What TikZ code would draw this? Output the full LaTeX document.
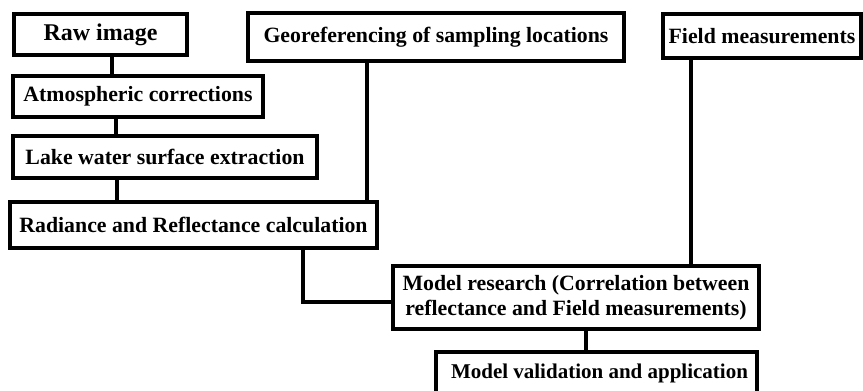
\documentclass[tikz,border=0pt]{standalone}
\usepackage{fontspec}
\setmainfont{Liberation Serif}
\begin{document}
\begin{tikzpicture}[x=1pt,y=-1pt,
  box/.style={draw,line width=3.4pt,inner sep=0pt,align=center,
    font=\bfseries\fontsize{21.8}{25}\selectfont},
  link/.style={line width=3.4pt}]
\useasboundingbox (0,0) rectangle (863,391);
\clip (0,0) rectangle (863,391);
\node[box,minimum width=173,minimum height=41,font=\bfseries\fontsize{24}{26}\selectfont] (raw) at (100.5,34.5) {Raw image};
\node[box,minimum width=250,minimum height=41] (atm) at (138,96.5) {Atmospheric corrections};
\node[box,minimum width=304,minimum height=42] (lake) at (165,157) {Lake water surface extraction};
\node[box,minimum width=367,minimum height=46] (rad) at (193.5,225) {Radiance and Reflectance calculation};
\node[box,minimum width=376,minimum height=48] (geo) at (436,37) {Georeferencing of sampling locations};
\node[box,minimum width=198,minimum height=44] (field) at (762,36) {Field measurements};
\node[box,minimum width=366,minimum height=63] (model) at (576,297.5) {Model research (Correlation between\\reflectance and Field measurements)};
\node[box,minimum width=321,minimum height=42,font=\bfseries\fontsize{21}{25}\selectfont] (valid) at (596.5,373) {\hspace*{6pt}Model validation and application};
\draw[link] ([xshift=11.5]raw.south) -- ([xshift=11.5]raw.south |- atm.north);
\draw[link] ([xshift=-22]atm.south) -- ([xshift=-22]atm.south |- lake.north);
\draw[link] ([xshift=-48]lake.south) -- ([xshift=-48]lake.south |- rad.north);
\draw[link] ([xshift=-69]geo.south) -- ([xshift=-69]geo.south |- rad.north);
\draw[link] ([xshift=-71]field.south) -- ([xshift=-71]field.south |- model.north);
\draw[link] ([xshift=109.5]rad.south) |- ([yshift=-4.5]model.west);
\draw[link] ([xshift=10]model.south) -- ([xshift=10]model.south |- valid.north);
\end{tikzpicture}
\end{document}
